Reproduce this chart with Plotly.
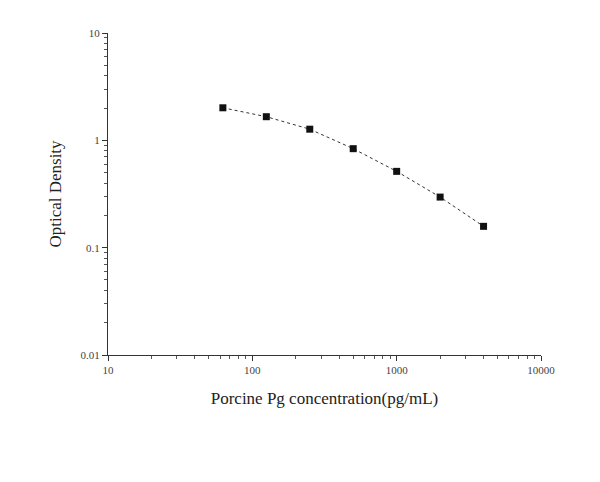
import plotly.graph_objects as go

concentration = [62.5, 125, 250, 500, 1000, 2000, 4000]
optical_density = [2.01, 1.66, 1.27, 0.836, 0.514, 0.296, 0.158]
x_tickvals = [10, 100, 1000, 10000]
x_ticktext = ["10", "100", "1000", "10000"]
y_tickvals = [0.01, 0.1, 1, 10]
y_ticktext = ["0.01", "0.1", "1", "10"]

fig = go.Figure(go.Scatter(
    x=concentration, y=optical_density, mode="lines+markers",
    line=dict(color="#333333", width=1, dash="dot"),
    marker=dict(symbol="square", size=7, color="#111111"),
    showlegend=False,
))

font = "Liberation Serif, Times New Roman, serif"
axis_common = dict(
    showline=True, linecolor="#333333", linewidth=1, mirror=False,
    showgrid=False, zeroline=False, ticks="outside", ticklen=5,
    tickcolor="#333333", tickfont=dict(family=font, size=11, color="#444444"),
    minor=dict(ticks="outside", ticklen=3, tickcolor="#555555", showgrid=False, dtick="D1"),
)

fig.update_xaxes(type="log", range=[1, 4], tickvals=x_tickvals, ticktext=x_ticktext,
                 title=dict(text="Porcine Pg concentration(pg/mL)",
                            font=dict(family=font, size=17, color="#222222"), standoff=16),
                 **axis_common)
fig.update_yaxes(type="log", range=[-2, 1], tickvals=y_tickvals, ticktext=y_ticktext,
                 title=dict(text="Optical Density",
                            font=dict(family=font, size=17, color="#222222"), standoff=14),
                 **axis_common)

fig.update_layout(
    width=600, height=482,
    margin=dict(l=100, r=67, t=25, b=135),
    plot_bgcolor="white", paper_bgcolor="white",
)

fig.write_html("out.html")
